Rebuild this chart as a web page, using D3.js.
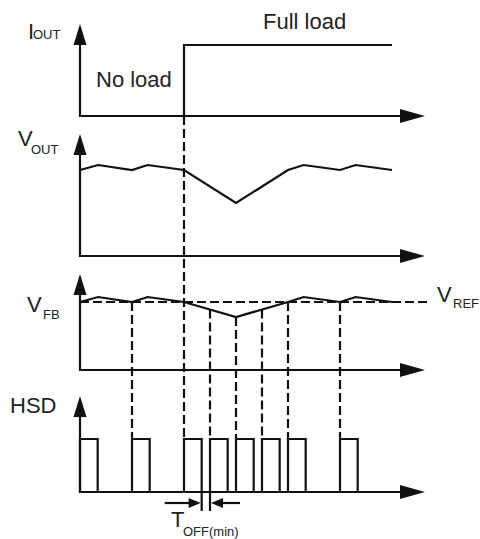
<!DOCTYPE html>
<html>
<head>
<meta charset="utf-8">
<script src="https://cdn.jsdelivr.net/npm/d3@7"></script>
<style>
  body { margin: 0; padding: 0; background: #fff; }
  text { font-family: "Liberation Sans", Arial, sans-serif; fill: #222; }
</style>
</head>
<body>
<script>
// time in switching slots
const vTimes = [0, 0.7, 2, 2.6, 4, 6, 8, 8.6, 10, 10.6, 12]
const voutVals = [0.86, 0.91, 0.86, 0.91, 0.86, 0.53, 0.86, 0.91, 0.86, 0.91, 0.86]
const vfbVals = [0.68, 0.73, 0.68, 0.73, 0.68, 0.53, 0.68, 0.73, 0.68, 0.73, 0.68]
const vref = 0.68
const loadStep = 4          // load goes from none to full here
const ioutLevels = [0, 1]
const pulseStarts = [0, 2, 4, 5, 6, 7, 8, 10]
const onTime = 0.68
const toffPair = [2, 3]     // pulses marking T_OFF(min)

const width = 480
const height = 539

const x = d3.scaleLinear().domain([0, 12]).range([80, 392])
const xEnd = 425

// one y scale per panel: [axis y, arrow tip y]
const panels = {
  iout: { axis: 116, top: 24, y: d3.scaleLinear().domain([0, 1]).range([116, 45]) },
  vout: { axis: 256, top: 134, y: d3.scaleLinear().domain([0, 1]).range([256, 156]) },
  vfb: { axis: 370, top: 274, y: d3.scaleLinear().domain([0, 1]).range([370, 270]) },
  hsd: { axis: 492, top: 396, y: d3.scaleLinear().domain([0, 1]).range([492, 439]) }
}

const svg = d3.select('body').append('svg')
  .attr('width', width)
  .attr('height', height)

svg.append('rect').attr('width', width).attr('height', height).attr('fill', '#fff')

const ink = '#111'
const sw = 2.2
const line = d3.line()

// axes with arrow heads
Object.values(panels).forEach(p => {
  const g = svg.append('g')
  g.append('path')
    .attr('d', line([[x(0), p.top + 10], [x(0), p.axis], [xEnd - 10, p.axis]]))
    .attr('fill', 'none').attr('stroke', ink).attr('stroke-width', sw)
  g.append('path')
    .attr('d', `M${x(0)},${p.top} L${x(0) - 6.5},${p.top + 21} L${x(0) + 6.5},${p.top + 21}Z`)
    .attr('fill', ink)
  g.append('path')
    .attr('d', `M${xEnd},${p.axis} L${xEnd - 25},${p.axis - 7} L${xEnd - 25},${p.axis + 7}Z`)
    .attr('fill', ink)
})

// dashed guides
const dash = '9,4'
const vfbAt = d3.scaleLinear().domain(vTimes).range(vfbVals)

svg.append('line')
  .attr('x1', x(0)).attr('x2', 428)
  .attr('y1', panels.vfb.y(vref)).attr('y2', panels.vfb.y(vref))
  .attr('stroke', ink).attr('stroke-width', sw).attr('stroke-dasharray', dash)

svg.append('g').selectAll('line')
  .data(pulseStarts.filter(t => t > 0))
  .join('line')
  .attr('x1', d => x(d)).attr('x2', d => x(d))
  .attr('y1', d => d === loadStep ? panels.iout.axis : panels.vfb.y(vfbAt(d)))
  .attr('y2', panels.hsd.y(1))
  .attr('stroke', ink).attr('stroke-width', sw).attr('stroke-dasharray', dash)

// I_OUT step
const ip = panels.iout
svg.append('path')
  .attr('d', line([[x(loadStep), ip.y(ioutLevels[0])], [x(loadStep), ip.y(ioutLevels[1])], [x(12), ip.y(ioutLevels[1])]]))
  .attr('fill', 'none').attr('stroke', ink).attr('stroke-width', sw)

// V_OUT and V_FB
svg.append('path')
  .attr('d', line(vTimes.map((t, i) => [x(t), panels.vout.y(voutVals[i])])))
  .attr('fill', 'none').attr('stroke', ink).attr('stroke-width', sw)

svg.append('path')
  .attr('d', line(vTimes.map((t, i) => [x(t), panels.vfb.y(vfbVals[i])])))
  .attr('fill', 'none').attr('stroke', ink).attr('stroke-width', sw)

// HSD pulses
const hp = panels.hsd
svg.append('g').selectAll('path')
  .data(pulseStarts)
  .join('path')
  .attr('d', t => line([[x(t), hp.y(0)], [x(t), hp.y(1)], [x(t + onTime), hp.y(1)], [x(t + onTime), hp.y(0)]]))
  .attr('fill', 'none').attr('stroke', ink).attr('stroke-width', sw)

// T_OFF(min) marker
const offL = x(pulseStarts[toffPair[0]] + onTime)
const offR = x(pulseStarts[toffPair[1]])
const ay = 503
const tg = svg.append('g')
tg.selectAll('line.tick')
  .data([offL, offR])
  .join('line')
  .attr('x1', d => d).attr('x2', d => d)
  .attr('y1', hp.axis).attr('y2', 511)
  .attr('stroke', ink).attr('stroke-width', sw)
tg.append('line').attr('x1', offL - 37).attr('x2', offL - 8).attr('y1', ay).attr('y2', ay)
  .attr('stroke', ink).attr('stroke-width', sw)
tg.append('path').attr('d', `M${offL - 1},${ay} L${offL - 13},${ay - 5} L${offL - 13},${ay + 5}Z`).attr('fill', ink)
tg.append('line').attr('x1', offR + 8).attr('x2', offR + 30).attr('y1', ay).attr('y2', ay)
  .attr('stroke', ink).attr('stroke-width', sw)
tg.append('path').attr('d', `M${offR + 1},${ay} L${offR + 13},${ay - 5} L${offR + 13},${ay + 5}Z`).attr('fill', ink)

// labels: [main, sub, x, baseline, subX, subBaseline]
const symbolLabels = [
  ['I', 'OUT', 28, 39, 33, 39],
  ['V', 'OUT', 18, 146, 31, 154],
  ['V', 'FB', 27, 312, 43, 319],
  ['V', 'REF', 437, 302, 453, 308],
  ['T', 'OFF(min)', 171, 527, 183, 536]
]
const plainLabels = [
  ['No load', 96, 87],
  ['Full load', 263, 29],
  ['HSD', 10, 413]
]

symbolLabels.forEach(([m, s, mx, my, sx, sy]) => {
  svg.append('text').attr('x', mx).attr('y', my).attr('font-size', 22).text(m)
  svg.append('text').attr('x', sx).attr('y', sy).attr('font-size', 13).text(s)
})
plainLabels.forEach(([t, tx, ty]) => {
  svg.append('text').attr('x', tx).attr('y', ty).attr('font-size', 22).text(t)
})
</script>
</body>
</html>
